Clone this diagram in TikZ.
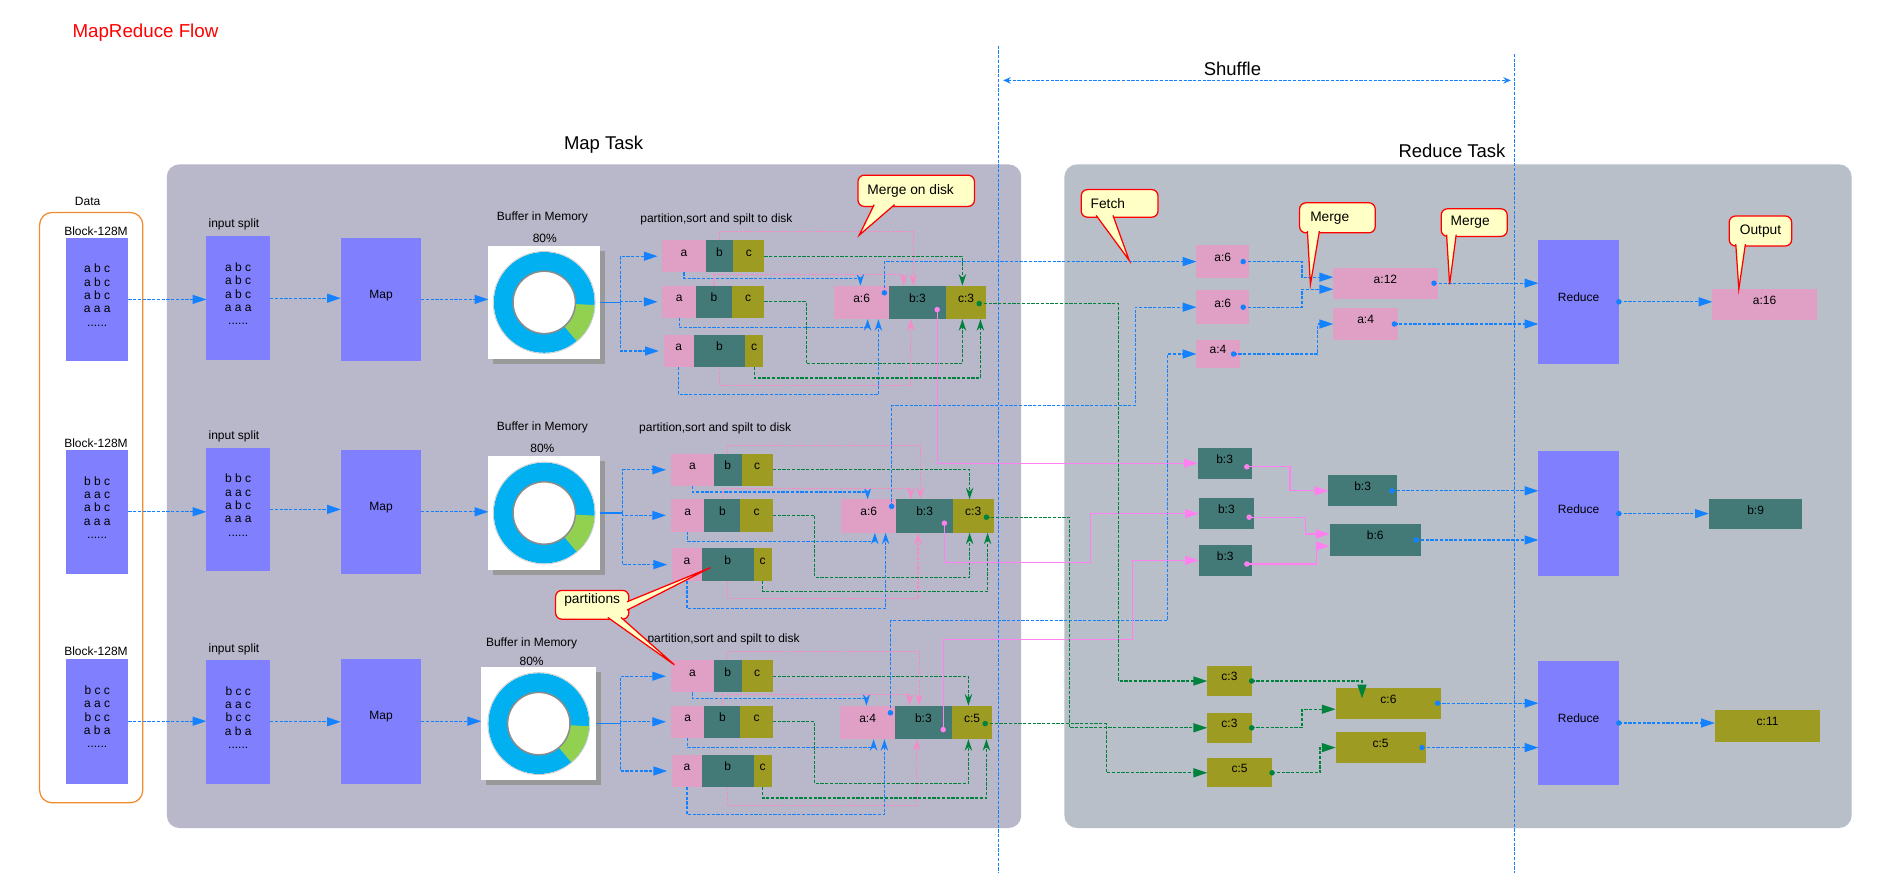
\documentclass[tikz,border=0pt]{standalone}
\usepackage{fontspec}
\setmainfont{Liberation Sans}
\usetikzlibrary{arrows.meta,fit,calc}
\definecolor{mapbg}{HTML}{B9B7CA}
\definecolor{redbg}{HTML}{B9BFC9}
\definecolor{blk}{HTML}{8080FF}
\definecolor{ca}{HTML}{E0A0C6}
\definecolor{cb}{HTML}{437A78}
\definecolor{cc}{HTML}{9D9B22}
\definecolor{lblue}{HTML}{1482FF}
\definecolor{lpink}{HTML}{F58CC8}
\definecolor{lshuf}{HTML}{FF80F0}
\definecolor{lgreen}{HTML}{00823C}
\definecolor{ring}{HTML}{00B0F0}
\definecolor{ringg}{HTML}{92D050}
\definecolor{callfill}{HTML}{FFFFC6}
\definecolor{dataor}{HTML}{F28A2E}
\newcommand\fsm{\fontsize{4.8}{5.35}\selectfont}
\newcommand\fcall{\fontsize{5.5}{6}\selectfont}
\newcommand\fbig{\fontsize{7.4}{8.5}\selectfont}
\newcommand\bx[7]{\node[#6,fit={(#2,#3)(#4,#5)}] (#1) {#7};}
\newcommand\callt[7]{\bx{#1}{#2}{#3}{#4}{#5}{callbox}{}%
\node[inner sep=0pt,font=\fcall,anchor=west] (#1t) at ($(#1.west)+(#7,0)$) {#6};}
\newcommand\mapgroup[7]{%
\bx{#1p1a}{#2}{#3}{#2+36}{#3+27}{pa}{a}
\bx{#1p1b}{#2+36}{#3}{#2+59}{#3+27}{pb}{b}
\bx{#1p1c}{#2+59}{#3}{#2+85}{#3+27}{pc}{c}
\bx{#1p2a}{#2}{#3+38}{#2+28}{#3+65}{pa}{a}
\bx{#1p2b}{#2+28}{#3+38}{#2+58}{#3+65}{pb}{b}
\bx{#1p2c}{#2+58}{#3+38}{#2+85}{#3+65}{pc}{c}
\bx{#1p3a}{#2+1}{#3+79}{#2+26}{#3+106}{pa}{a}
\bx{#1p3b}{#2+26}{#3+79}{#2+69}{#3+106}{pb}{b}
\bx{#1p3c}{#2+69}{#3+79}{#2+84}{#3+106}{pc}{c}
\bx{#1ma}{#4}{#3+38}{#4+46}{#3+66}{pa}{#5}
\bx{#1mb}{#4+46}{#3+38}{#4+93}{#3+66}{pb}{#6}
\bx{#1mc}{#4+93}{#3+38}{#4+127}{#3+66}{pc}{#7}
\coordinate (#1dA) at (#4+42,#3+44);
\coordinate (#1dB) at (#4+86,#3+58);
\coordinate (#1dC) at (#4+121,#3+53);
}
\newcommand\mapwires[1]{%
\draw[lb,tS] (#1p1a.south) |- ($(#1ma.north west)+(22,-6)$) -- ($(#1ma.north west)+(22,0)$);
\draw[lb,tS] (#1p2a.south) |- ($(#1ma.south west)+(28,7)$) -- ($(#1ma.south west)+(28,0)$);
\draw[lb,tS] (#1p3a.south) |- ($(#1ma.south west)+(37,63)$) -- ($(#1ma.south west)+(37,0)$);
\draw[lp,tS] (#1p1b.north) |- ($(#1mb.north west)+(20,-45)$) -- ($(#1mb.north west)+(20,0)$);
\draw[lp,tS] (#1p2b.north) |- ($(#1mb.north west)+(12,-9)$) -- ($(#1mb.north west)+(12,0)$);
\draw[lp,tS] (#1p3b.south) |- ($(#1mb.south west)+(18,55)$) -- ($(#1mb.south west)+(18,0)$);
\draw[lg,tS] (#1p1c.east) -| ($(#1mc.north west)+(14,0)$);
\draw[lg,tS] (#1p2c.east) -- ++(35,0) |- ($(#1mc.south west)+(14,37)$) -- ($(#1mc.south west)+(14,0)$);
\draw[lg,tS] (#1p3c.south) |- ($(#1mc.south west)+(29,49)$) -- ($(#1mc.south west)+(29,0)$);
}
\newcommand\donut[5]{%
\fill[black!40] (#2+4,#3+4) rectangle (#4+4,#5+4);
\bx{#1}{#2}{#3}{#4}{#5}{bxs,fill=white}{}
\fill[ring,even odd rule] (#1.center) circle[radius=42] (#1.center) circle[radius=26];
\fill[ringg] ($(#1.center)+(3:42)$) arc[start angle=3,end angle=50,radius=42] -- ($(#1.center)+(50:26)$) arc[start angle=50,end angle=3,radius=26] -- cycle;
\draw[black!45,line width=0.6pt] (#1.center) circle[radius=26];
\draw[black!20,line width=0.3pt] (#1.center) circle[radius=42.5];
}
\begin{document}
\begin{tikzpicture}[x=0.48pt,y=-0.48pt,
  bxs/.style={inner sep=0pt,outer sep=0pt,font=\fsm,text=black},
  pa/.style={bxs,fill=ca}, pb/.style={bxs,fill=cb}, pc/.style={bxs,fill=cc},
  pblk/.style={bxs,fill=blk,align=center},
  lab/.style={inner sep=0pt,font=\fsm},
  lbase/.style={line width=0.45pt,dash pattern=on 1.3pt off 0.6pt},
  lb/.style={lbase,draw=lblue}, lp/.style={lbase,draw=lpink}, lg/.style={lbase,draw=lgreen},
  lp2/.style={line width=0.45pt,draw=lshuf},
  tT/.style={-{Triangle[length=5.5pt,width=3.6pt]}},
  tS/.style={-{Stealth[length=4.6pt,width=3pt,inset=1.5pt]}},
  callbox/.style={fill=callfill,draw=red,line width=0.5pt,rounded corners=2.5pt,inner sep=0pt,font=\fcall},
  callptr/.style={fill=callfill,draw=red,line width=0.5pt}
]
\useasboundingbox (0,0) rectangle (1567.5,727.5);
\fill[white] (0,0) rectangle (1567.5,727.5);
% panels
\fill[mapbg,rounded corners=5pt] (139,137) rectangle (851,690);
\fill[redbg,rounded corners=5pt] (887,137) rectangle (1543,690);
\draw[dataor,line width=0.5pt,rounded corners=5pt] (33,177) rectangle (119,669);
% titles
\node[anchor=west,inner sep=0pt,text=red,font=\fontsize{7.5}{9}\selectfont] (title) at (60,27) {MapReduce Flow};
\node[inner sep=0pt,font=\fbig] (tmap) at (503,121) {Map Task};
\node[inner sep=0pt,font=\fbig] (tred) at (1210,126) {Reduce Task};
\node[inner sep=0pt,font=\fbig] (tshuf) at (1027,57) {Shuffle};
\node[lab] (tdata) at (73,168) {Data};
% shuffle guides
\coordinate (v1t) at (832,38); \coordinate (v1b) at (832,727.5);
\coordinate (v2t) at (1262,45); \coordinate (v2b) at (1262,727.5);
\draw[lb] (v1t) -- (v1b);
\draw[lb] (v2t) -- (v2b);
\coordinate (shL) at (836,67); \coordinate (shR) at (1259,67);
\draw[lb,{Stealth[length=3pt,width=2.6pt]}-{Stealth[length=3pt,width=2.6pt]}] (shL) -- (shR);
% rows: data, split, map, buffer
\node[lab] (lblk1) at (80,193) {Block-128M};
\node[lab] (lblk2) at (80,369) {Block-128M};
\node[lab] (lblk3) at (80,543) {Block-128M};
\bx{blk1}{55}{198}{107}{301}{pblk}{a b c\\a b c\\a b c\\a a a\\......}
\bx{blk2}{55}{375}{107}{478}{pblk}{b b c\\a a c\\a b c\\a a a\\......}
\bx{blk3}{55}{549}{107}{653}{pblk}{b c c\\a a c\\b c c\\a b a\\......}
\node[lab] (lspl1) at (195,187) {input split};
\node[lab] (lspl2) at (195,364) {input split};
\node[lab] (lspl3) at (195,541) {input split};
\bx{spl1}{172}{197}{225}{300}{pblk}{a b c\\a b c\\a b c\\a a a\\......}
\bx{spl2}{172}{373}{225}{476}{pblk}{b b c\\a a c\\a b c\\a a a\\......}
\bx{spl3}{172}{550}{225}{653}{pblk}{b c c\\a a c\\b c c\\a b a\\......}
\bx{map1}{284}{198}{351}{301}{pblk}{Map}
\bx{map2}{284}{375}{351}{478}{pblk}{Map}
\bx{map3}{284}{549}{351}{653}{pblk}{Map}
\node[lab] (lbuf1) at (452,181) {Buffer in Memory};
\node[lab] (lpct1) at (454,199) {80\%};
\node[lab] (lbuf2) at (452,356) {Buffer in Memory};
\node[lab] (lpct2) at (452,374) {80\%};
\node[lab] (lbuf3) at (443,536) {Buffer in Memory};
\node[lab] (lpct3) at (443,551) {80\%};
\donut{buf1}{407}{205}{500}{299}
\donut{buf2}{407}{380}{500}{475}
\donut{buf3}{401}{556}{497}{650}
\node[lab] (lpart1) at (597,183) {partition,sort and spilt to disk};
\node[lab] (lpart2) at (596,357) {partition,sort and spilt to disk};
\node[lab] (lpart3) at (603,533) {partition,sort and spilt to disk};
% map groups
\mapgroup{g1}{552}{200}{695}{a:6}{b:3}{c:3}
\mapgroup{g2}{559}{378}{701}{a:6}{b:3}{c:3}
\mapgroup{g3}{559}{550}{700}{a:4}{b:3}{c:5}
% reduce nodes
\bx{ra1}{997}{204}{1041}{232}{pa}{a:6}
\bx{ra2}{997}{242}{1041}{270}{pa}{a:6}
\bx{ra3}{997}{283}{1033}{307}{pa}{a:4}
\bx{ram1}{1111}{223}{1198}{249}{pa}{a:12}
\bx{ram2}{1111}{257}{1165}{283}{pa}{a:4}
\bx{red1}{1282}{200}{1349}{303}{pblk}{Reduce}
\bx{out1}{1427}{241}{1514}{267}{pa}{a:16}
\bx{rb1}{998}{373}{1043}{399}{pb}{b:3}
\bx{rb2}{999}{415}{1045}{441}{pb}{b:3}
\bx{rb3}{999}{454}{1043}{480}{pb}{b:3}
\bx{rbm1}{1107}{396}{1164}{422}{pb}{b:3}
\bx{rbm2}{1108}{437}{1184}{463}{pb}{b:6}
\bx{red2}{1282}{376}{1349}{480}{pblk}{Reduce}
\bx{out2}{1424}{416}{1502}{441}{pb}{b:9}
\bx{rc1}{1006}{555}{1043}{580}{pc}{c:3}
\bx{rc2}{1006}{594}{1043}{619}{pc}{c:3}
\bx{rc3}{1006}{632}{1060}{656}{pc}{c:5}
\bx{rcm1}{1113}{573}{1201}{599}{pc}{c:6}
\bx{rcm2}{1113}{610}{1188}{636}{pc}{c:5}
\bx{red3}{1282}{551}{1349}{654}{pblk}{Reduce}
\bx{out3}{1429}{592}{1517}{618}{pc}{c:11}
% main flow arrows
\foreach \r in {1,2,3}{
  \draw[lb,tT] (blk\r.east) -- (blk\r.east -| spl\r.west);
  \draw[lb,tT] (spl\r.east) -- (spl\r.east -| map\r.west);
  \draw[lb,tT] (map\r.east) -- (map\r.east -| buf\r.west);
}
\draw[lblue,line width=0.45pt] (buf1.east) -- ++(17,0) coordinate (s1);
\draw[lblue,line width=0.45pt] (buf2.east) -- ++(19,0) coordinate (s2);
\draw[lblue,line width=0.45pt] (buf3.east) -- ++(20,0) coordinate (s3);
\foreach \r in {1,2,3}{
  \draw[lb,tT] (s\r) |- ($(g\r p1a.west)+(-4,0)$);
  \draw[lb,tT] (s\r) |- ($(g\r p2a.west)+(-4,0)$);
  \draw[lb,tT] (s\r) |- ($(g\r p3a.west)+(-4,0)$);
}
% map internal wires
\mapwires{g1}
\mapwires{g2}
\mapwires{g3}
% shuffle wires
\draw[lb,tT] (g1dA) |- (ra1.west);
\draw[lb,tT] (g2dA) -- ++(0,-84) -| ($(ra2.west)+(-51,0)$) -- (ra2.west);
\draw[lb,tT] (g3dA) -- ++(0,-77) -| ($(ra3.west)+(-24,0)$) -- (ra3.west);
\draw[lp2,tT] (g1dB) |- (rb1.west);
\draw[lp2,tT] (g2dB) |- ($(rb2.west)+(-90,41)$) |- (rb2.west);
\draw[lp2,tT] (g3dB) |- ($(rb3.west)+(-55,66)$) |- (rb3.west);
\draw[lg,tT] (g1dC) -| ($(rc1.west)+(-74,0)$) -- (rc1.west);
\draw[lg,tT] (g2dC) -| ($(rc2.west)+(-115,0)$) -- (rc2.west);
\draw[lg,tT] (g3dC) -| ($(rc3.west)+(-84,0)$) -- (rc3.west);
% reduce wires
\coordinate (da1) at ($(ra1.east)+(-5,0)$);
\coordinate (da2) at ($(ra2.east)+(-5,0)$);
\coordinate (da3) at ($(ra3.east)+(-5,0)$);
\coordinate (dam1) at ($(ram1.east)+(-3,0)$);
\coordinate (dam2) at ($(ram2.east)+(-3,0)$);
\coordinate (db1) at ($(rb1.east)+(-4,3)$);
\coordinate (db2) at ($(rb2.east)+(-4,3)$);
\coordinate (db3) at ($(rb3.east)+(-4,3)$);
\coordinate (dbm1) at ($(rbm1.east)+(-4,0)$);
\coordinate (dbm2) at ($(rbm2.east)+(-4,0)$);
\coordinate (dc1) at (rc1.east);
\coordinate (dc2) at (rc2.east);
\coordinate (dc3) at (rc3.east);
\coordinate (dcm1) at ($(rcm1.east)+(-3,0)$);
\coordinate (dcm2) at ($(rcm2.east)+(-3,0)$);
\coordinate (dr1) at (red1.east);
\coordinate (dr2) at (red2.east);
\coordinate (dr3) at (red3.east);
\draw[lb,tT] (da1) -- ++(49,0) |- ($(ram1.west)+(0,-5)$);
\draw[lb,tT] (da2) -- ++(49,0) |- ($(ram1.west)+(0,5)$);
\draw[lb,tT] (da3) -- ++(70,0) |- (ram2.west);
\draw[lb,tT] (dam1) -- (dam1 -| red1.west);
\draw[lb,tT] (dam2) -- (dam2 -| red1.west);
\draw[lb,tT] (dr1) -- (dr1 -| out1.west);
\draw[lp2,tT] (db1) -- ++(36,0) |- (rbm1.west);
\draw[lp2,tT] (db2) -- ++(47,0) |- ($(rbm2.west)+(0,-5)$);
\draw[lp2,tT] (db3) -- ++(58,0) |- ($(rbm2.west)+(0,5)$);
\draw[lb,tT] (dbm1) -- (dbm1 -| red2.west);
\draw[lb,tT] (dbm2) -- (dbm2 -| red2.west);
\draw[lb,tT] (dr2) -- (dr2 -| out2.west);
\draw[lg,tT] (dc1) -| ($(rcm1.north west)+(22,9)$);
\draw[lg,tT] (dc2) -- ++(42,0) |- ($(rcm1.west)+(0,5)$);
\draw[lg,tT] (dc3) -- ++(40,0) |- (rcm2.west);
\draw[lb,tT] (dcm1) -- (dcm1 -| red3.west);
\draw[lb,tT] (dcm2) -- (dcm2 -| red3.west);
\draw[lb,tT] (dr3) -- (dr3 -| out3.west);
% dots
\foreach \p in {g1dA,g2dA,g3dA,da1,da2,da3,dam1,dam2,dr1,dbm1,dbm2,dr2,dcm1,dcm2,dr3}
  \fill[lblue] (\p) circle[radius=2.3];
\foreach \p in {g1dB,g2dB,g3dB,db1,db2,db3}
  \fill[lshuf] (\p) circle[radius=2.3];
\foreach \p in {g1dC,g2dC,g3dC,dc1,dc2,dc3}
  \fill[lgreen] (\p) circle[radius=2.3];
% callouts
\callt{cmod}{715}{146}{812}{172}{Merge on disk}{8}
\coordinate (tmod) at (716,196);
\filldraw[callptr] ($(cmod.south west)+(14,-2)$) -- (tmod) -- ($(cmod.south west)+(31,-2)$);
\bx{cpart}{463}{492}{524}{516}{callbox}{partitions}
\coordinate (tpart1) at (592,473);
\coordinate (tpart2) at (562,554);
\filldraw[callptr] ($(cpart.north east)+(-2,10)$) -- (tpart1) -- ($(cpart.north east)+(-2,17)$);
\filldraw[callptr] ($(cpart.south west)+(44,-2)$) -- (tpart2) -- ($(cpart.south west)+(55,-2)$);
\callt{cfetch}{901}{158}{965}{181}{Fetch}{8}
\coordinate (tfetch) at (941,217);
\filldraw[callptr] ($(cfetch.south west)+(13,-2)$) -- (tfetch) -- ($(cfetch.south west)+(27,-2)$);
\callt{cmg1}{1083}{169}{1146}{194}{Merge}{9}
\coordinate (tmg1) at (1092,237);
\filldraw[callptr] ($(cmg1.south west)+(7,-2)$) -- (tmg1) -- ($(cmg1.south west)+(17,-2)$);
\callt{cmg2}{1201}{174}{1256}{197}{Merge}{8}
\coordinate (tmg2) at (1208,237);
\filldraw[callptr] ($(cmg2.south west)+(5,-2)$) -- (tmg2) -- ($(cmg2.south west)+(13,-2)$);
\callt{cout}{1441}{180}{1493}{205}{Output}{9}
\coordinate (tout) at (1449,241);
\filldraw[callptr] ($(cout.south west)+(6,-2)$) -- (tout) -- ($(cout.south west)+(14,-2)$);
\end{tikzpicture}
\end{document}
